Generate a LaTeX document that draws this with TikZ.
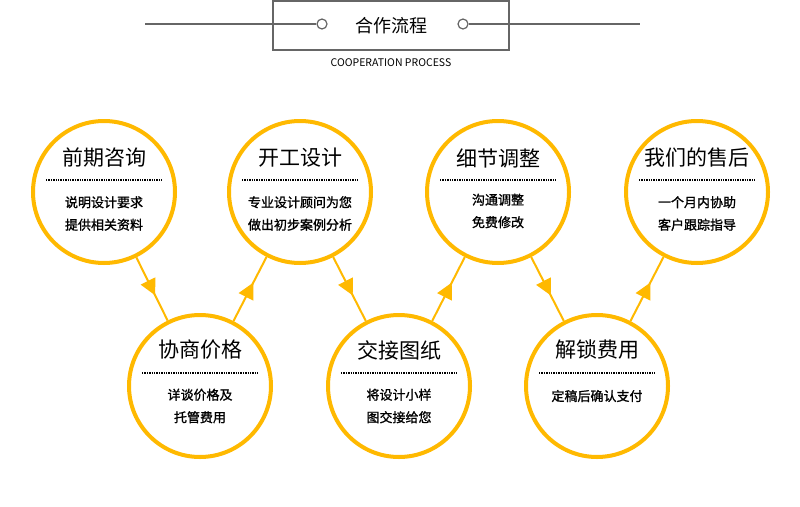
\documentclass[tikz,border=0pt]{standalone}
\usepackage{fontspec}
\setmainfont{Noto Sans CJK SC}
\newfontfamily\cjkmed[FakeBold=1.3]{Noto Sans CJK SC}
\usetikzlibrary{arrows.meta,decorations.markings,calc}
\definecolor{gold}{HTML}{FFB900}
\definecolor{hdr}{HTML}{666666}
\tikzset{
  stepcircle/.style={circle,draw=gold,line width=4pt,minimum size=142pt,inner sep=0pt,fill=white},
  ttl/.style={font=\fontsize{21pt}{24pt}\selectfont,inner sep=0pt},
  sub/.style={font=\cjkmed\fontsize{13pt}{22.5pt}\selectfont,inner sep=0pt,align=center},
  dots/.style={line width=1.6pt,dash pattern=on 1.4pt off 1pt},
  flow/.style={draw=gold,line width=2pt,postaction={decorate},
    decoration={markings,mark=at position 0.6 with {\arrow{Triangle[length=16pt,width=16pt]}}}},
  hdrline/.style={draw=hdr,line width=1.2pt},
  hdrdot/.style={circle,draw=hdr,line width=1.2pt,minimum size=10pt,inner sep=0pt,fill=white}
}
\begin{document}
\begin{tikzpicture}[x=1pt,y=-1pt]
\useasboundingbox[fill=white] (0,0) rectangle (800,506);
% header
\node[draw=hdr,line width=1.2pt,minimum width=236pt,minimum height=49pt,inner sep=0pt,
  font=\fontsize{18pt}{20pt}\selectfont] (hbox) at (391,25.5) {合作流程};
\coordinate (hl) at (145,24);
\coordinate (hr) at (640,24);
\node[hdrdot] (hd1) at (322,24) {};
\node[hdrdot] (hd2) at (463,24) {};
\draw[hdrline] (hl) -- (hd1);
\draw[hdrline] (hd2) -- (hr);
\node[font=\fontsize{10.5pt}{12pt}\selectfont,inner sep=0pt] (hsub) at (391,63) {COOPERATION PROCESS};
% circles
\node[stepcircle] (c1) at (104,192) {};
\node[stepcircle] (c2) at (200,386) {};
\node[stepcircle] (c3) at (300,192) {};
\node[stepcircle] (c4) at (399,386) {};
\node[stepcircle] (c5) at (498,192) {};
\node[stepcircle] (c6) at (597,386) {};
\node[stepcircle] (c7) at (697,192) {};
% connectors
\draw[flow] (c1) -- (c2);
\draw[flow] (c2) -- (c3);
\draw[flow] (c3) -- (c4);
\draw[flow] (c4) -- (c5);
\draw[flow] (c5) -- (c6);
\draw[flow] (c6) -- (c7);
% contents
\foreach \c/\t/\s/\ty/\ly/\sy in {c1/前期咨询/{说明设计要求\\提供相关资料}/-34/-12/21.5,
  c3/开工设计/{专业设计顾问为您\\做出初步案例分析}/-34/-12/21.5,
  c5/细节调整/{沟通调整\\免费修改}/-34/-12/19,
  c7/我们的售后/{一个月内协助\\客户跟踪指导}/-34/-12/21.5,
  c2/协商价格/{详谈价格及\\托管费用}/-36/-13/20,
  c4/交接图纸/{将设计小样\\图交接给您}/-36/-13/20,
  c6/解锁费用/{定稿后确认支付}/-36/-13/10}{
  \node[ttl] at ($(\c.center)+(0,\ty)$) {\t};
  \draw[dots] ($(\c.center)+(-58,\ly)$) -- ($(\c.center)+(58,\ly)$);
  \node[sub] at ($(\c.center)+(0,\sy)$) {\s};
}
\end{tikzpicture}
\end{document}
